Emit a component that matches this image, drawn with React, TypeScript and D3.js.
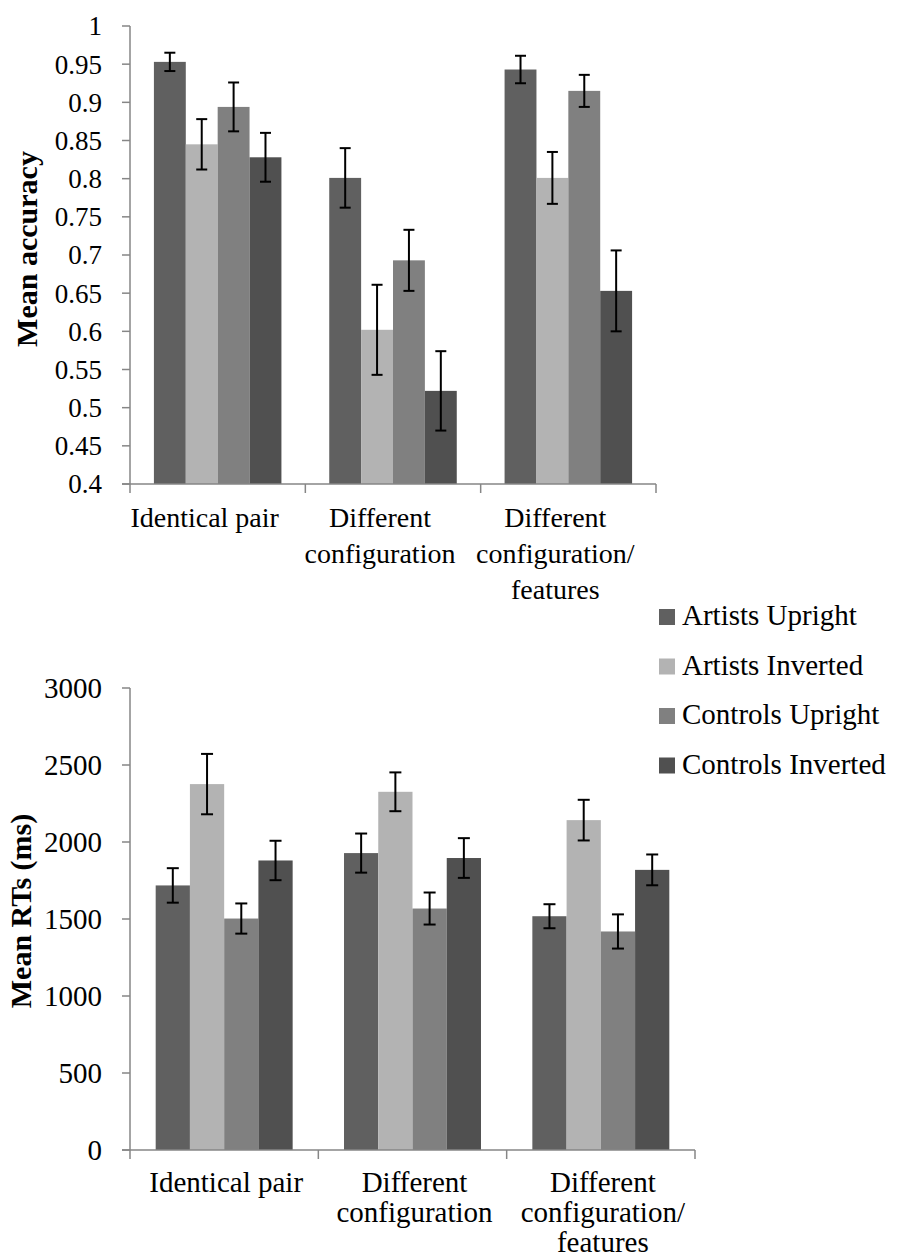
import React from "react";
import * as d3 from "d3";

const series = ["Artists Upright", "Artists Inverted", "Controls Upright", "Controls Inverted"];
const colors = ["#606060", "#b3b3b3", "#808080", "#505050"];
const categories = ["Identical pair", "Different configuration", "Different configuration/ features"];
const categoryLines = [["Identical pair"], ["Different", "configuration"], ["Different", "configuration/", "features"]];

// Accuracy: [category][series]
const accMeans = [
  [0.953, 0.845, 0.894, 0.828],
  [0.801, 0.602, 0.693, 0.522],
  [0.943, 0.801, 0.915, 0.653],
];
const accErr = [
  [0.012, 0.033, 0.032, 0.032],
  [0.039, 0.059, 0.040, 0.052],
  [0.018, 0.034, 0.021, 0.053],
];
const accTicks = [0.4, 0.45, 0.5, 0.55, 0.6, 0.65, 0.7, 0.75, 0.8, 0.85, 0.9, 0.95, 1];
const accTickLabels = ["0.4", "0.45", "0.5", "0.55", "0.6", "0.65", "0.7", "0.75", "0.8", "0.85", "0.9", "0.95", "1"];

// RTs
const rtMeans = [
  [1718, 2376, 1503, 1880],
  [1928, 2326, 1568, 1896],
  [1518, 2142, 1419, 1819],
];
const rtErr = [
  [112, 196, 98, 128],
  [127, 126, 104, 129],
  [78, 132, 111, 100],
];
const rtTicks = [0, 500, 1000, 1500, 2000, 2500, 3000];

const FONT = '"Liberation Serif", "Times New Roman", Times, "DejaVu Serif", serif';
const AXIS = "#868686";

type PanelProps = {
  means: number[][];
  errs: number[][];
  ticks: number[];
  tickLabels: string[];
  domain: [number, number];
  x0: number;
  x1: number;
  yTop: number;
  yBottom: number;
  yLabel: string;
  yLabelX: number;
  yLabelY: number;
  tickFont: number;
  catFont: number;
  catShift: number;
  catBaseline: number;
  catLineHeight: number;
  capW: number;
};

function Panel(p: PanelProps) {
  const y = d3.scaleLinear().domain(p.domain).range([p.yBottom, p.yTop]);
  const xg = d3.scaleBand<string>().domain(categories).range([p.x0, p.x1]).padding(0);
  const xs = d3
    .scaleBand<string>()
    .domain(series)
    .range([0, xg.bandwidth()])
    .paddingInner(0)
    .paddingOuter(0.75);
  const boundaries = [p.x0, ...categories.map((c) => (xg(c) as number) + xg.bandwidth())];
  return (
    <g>
      {categories.map((c, ci) =>
        series.map((s, si) => {
          const bx = (xg(c) as number) + (xs(s) as number);
          const v = p.means[ci][si];
          return (
            <rect
              key={c + s}
              x={bx}
              y={y(v)}
              width={xs.bandwidth()}
              height={p.yBottom - y(v)}
              fill={colors[si]}
            />
          );
        })
      )}
      <line x1={p.x0} x2={p.x0} y1={p.yTop} y2={p.yBottom} stroke={AXIS} strokeWidth={1.5} />
      {p.ticks.map((t, i) => (
        <g key={"t" + i}>
          <line x1={p.x0 - 8} x2={p.x0} y1={y(t)} y2={y(t)} stroke={AXIS} strokeWidth={1.5} />
          <text
            x={p.x0 - 28}
            y={y(t)}
            dy="0.35em"
            textAnchor="end"
            style={{ fontFamily: FONT, fontSize: p.tickFont }}
            fill="#000"
          >
            {p.tickLabels[i]}
          </text>
        </g>
      ))}
      <line x1={p.x0 - 8} x2={p.x1} y1={p.yBottom} y2={p.yBottom} stroke={AXIS} strokeWidth={1.5} />
      {boundaries.map((bx, i) => (
        <line key={"b" + i} x1={bx} x2={bx} y1={p.yBottom} y2={p.yBottom + 9} stroke={AXIS} strokeWidth={1.5} />
      ))}
      {categories.map((c, ci) =>
        series.map((s, si) => {
          const cx = (xg(c) as number) + (xs(s) as number) + xs.bandwidth() / 2;
          const v = p.means[ci][si];
          const e = p.errs[ci][si];
          const yt = y(v + e);
          const yb = y(v - e);
          return (
            <g key={"e" + c + s} stroke="#000" strokeWidth={2}>
              <line x1={cx} x2={cx} y1={yt} y2={yb} />
              <line x1={cx - p.capW / 2} x2={cx + p.capW / 2} y1={yt} y2={yt} />
              <line x1={cx - p.capW / 2} x2={cx + p.capW / 2} y1={yb} y2={yb} />
            </g>
          );
        })
      )}
      {categories.map((c, ci) => {
        const cx = (xg(c) as number) + xg.bandwidth() / 2 + p.catShift;
        return (
          <text key={"c" + c} textAnchor="middle" style={{ fontFamily: FONT, fontSize: p.catFont }} fill="#000">
            {categoryLines[ci].map((ln, li) => (
              <tspan key={li} x={cx} y={p.catBaseline + li * p.catLineHeight}>
                {ln}
              </tspan>
            ))}
          </text>
        );
      })}
      <text
        transform={`translate(${p.yLabelX},${p.yLabelY}) rotate(-90)`}
        textAnchor="middle"
        style={{ fontFamily: FONT, fontSize: 30, fontWeight: "bold" }}
        fill="#000"
      >
        {p.yLabel}
      </text>
    </g>
  );
}

export default function App() {
  return (
    <svg
      width={901}
      height={1259}
      style={{ position: "absolute", left: 0, top: 0, background: "#fff" }}
    >
      <rect x={0} y={0} width={901} height={1259} fill="#fff" />
      <Panel
        means={accMeans}
        errs={accErr}
        ticks={accTicks}
        tickLabels={accTickLabels}
        domain={[0.4, 1]}
        x0={130}
        x1={656}
        yTop={26}
        yBottom={484}
        yLabel="Mean accuracy"
        yLabelX={37}
        yLabelY={249}
        tickFont={27}
        catFont={28}
        catShift={-13}
        catBaseline={527}
        catLineHeight={36}
        capW={11}
      />
      <Panel
        means={rtMeans}
        errs={rtErr}
        ticks={rtTicks}
        tickLabels={rtTicks.map((t) => String(t))}
        domain={[0, 3000]}
        x0={130}
        x1={695}
        yTop={688}
        yBottom={1150}
        yLabel="Mean RTs (ms)"
        yLabelX={31}
        yLabelY={911}
        tickFont={29}
        catFont={29}
        catShift={2}
        catBaseline={1192}
        catLineHeight={30}
        capW={12}
      />
      {series.map((s, i) => (
        <g key={s}>
          <rect x={659} y={609 + i * 49.5} width={16} height={16} fill={colors[i]} />
          <text x={682} y={625 + i * 49.5} style={{ fontFamily: FONT, fontSize: 29 }} fill="#000">
            {s}
          </text>
        </g>
      ))}
    </svg>
  );
}
